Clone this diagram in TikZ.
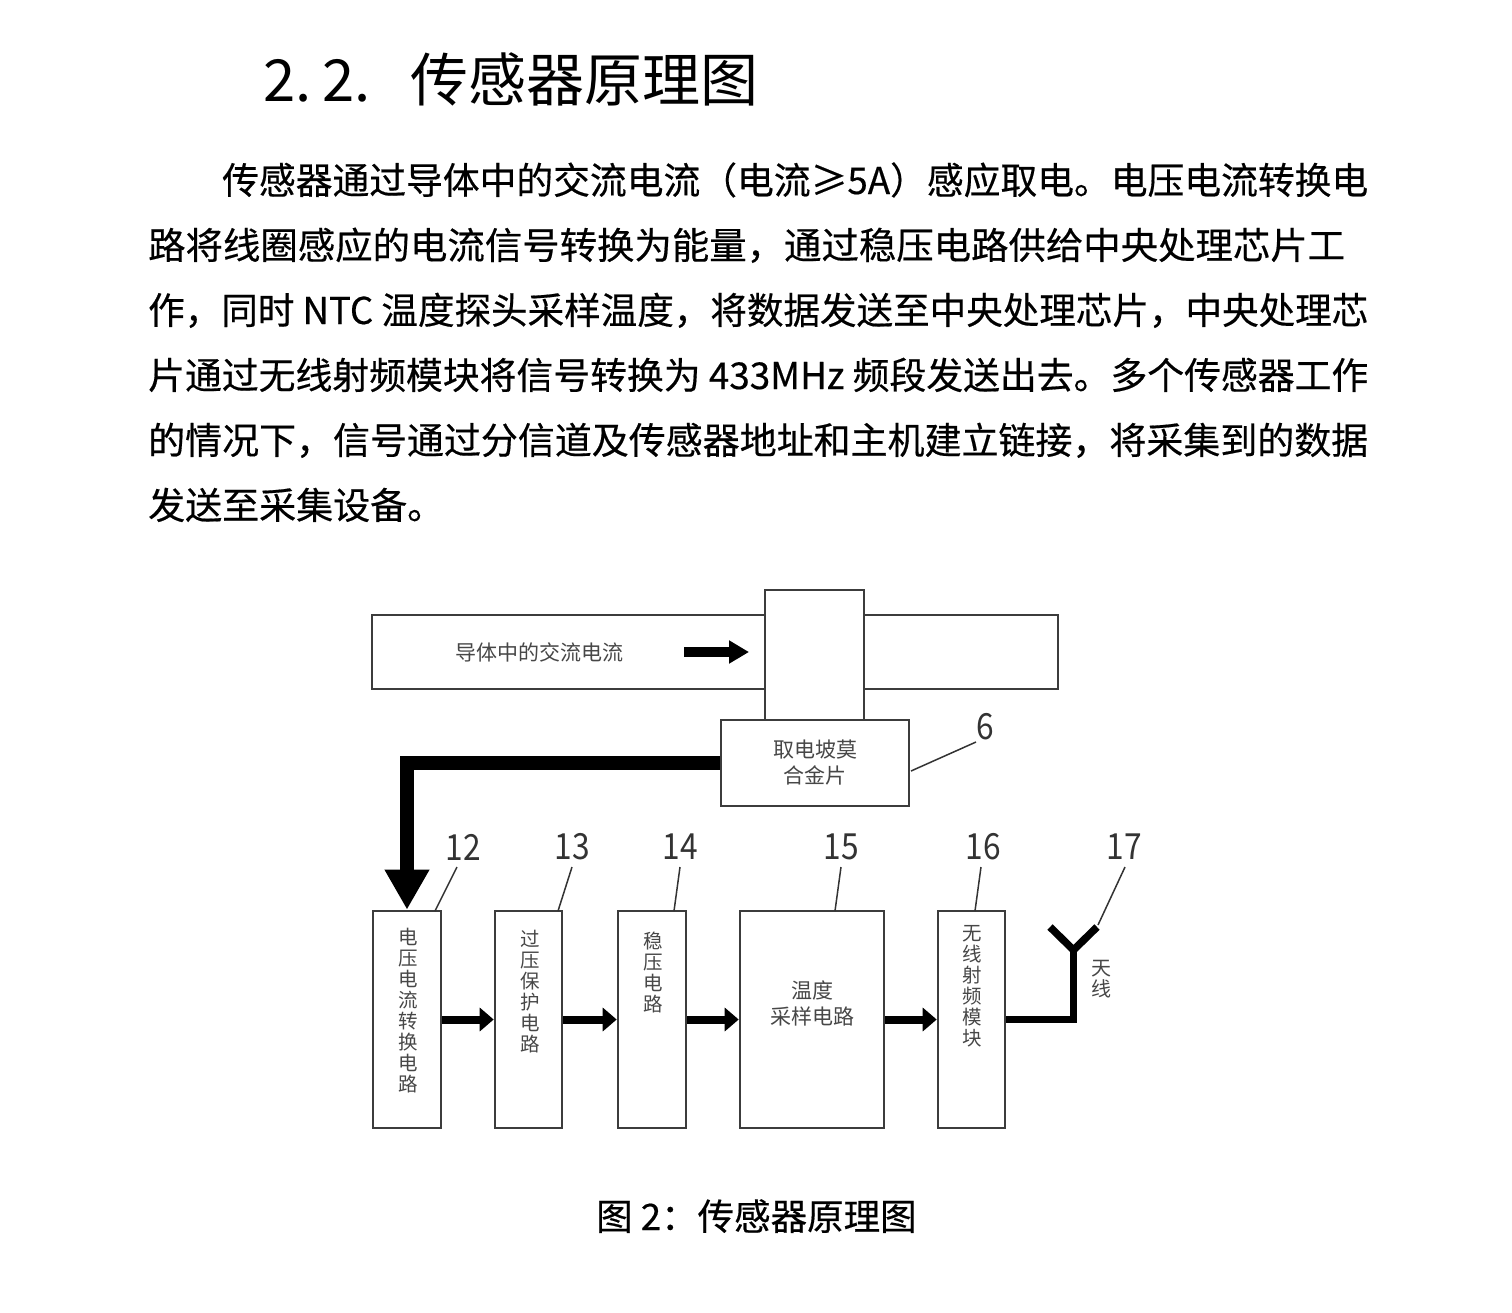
\documentclass[tikz,border=0pt]{standalone}
\usepackage{fontspec}
\setmainfont{Noto Sans CJK SC}
\newfontfamily\heavyfam{Noto Sans CJK SC}[BoldFont={Noto Sans CJK SC}, BoldFeatures={FakeBold=0.45}]
\usetikzlibrary{arrows.meta,calc}
\newcommand\bodyfont{\heavyfam\bfseries\fontsize{37pt}{37pt}\selectfont}
\newcommand\titlefont{\fontsize{58pt}{58pt}\selectfont}
\newcommand\capfont{\heavyfam\bfseries\fontsize{36.5pt}{36.5pt}\selectfont}
\newcommand\dgfont{\fontsize{21pt}{26pt}\selectfont}
\newcommand\vtfont{\fontsize{19.5pt}{21pt}\selectfont}
\newcommand\numfont{\fontsize{36pt}{36pt}\selectfont}
\newcommand\fitto[2]{\resizebox{#1}{\height}{#2}}
\definecolor{boxline}{HTML}{3C3C3C}
\definecolor{dgtext}{HTML}{474747}
\begin{document}
\begin{tikzpicture}[x=1pt,y=-1pt,
  bodyline/.style={anchor=base west, inner sep=0pt, font=\bodyfont},
  blk/.style={draw=boxline, line width=2.6pt, fill=white, inner sep=0pt},
  vtext/.style={anchor=north, inner sep=0pt, align=center, font=\vtfont, text=dgtext},
  dtext/.style={inner sep=0pt, align=center, font=\dgfont, text=dgtext},
  numlbl/.style={inner sep=2pt, font=\numfont, text=black!80, xscale=0.88},
  leader/.style={draw=black!80, line width=1.5pt},
  flow/.style={line width=8pt, -{Triangle[length=14pt,width=23pt]}},
  bigflow/.style={line width=14pt, -{Triangle[length=40pt,width=42pt]}},
  antline/.style={line width=7.5pt, line join=miter},
]
\useasboundingbox (0,0) rectangle (1512,1312);
\fill[white] (0,0) rectangle (1512,1312);

% title
\node[anchor=base west, inner sep=0pt, font=\titlefont] (t1) at (263,101) {\makebox[59pt][l]{2.}\makebox[59pt][l]{2.}};
\node[anchor=base west, inner sep=0pt, font=\titlefont] (t2) at (410,101) {传感器原理图};

% paragraph
\node[bodyline] (p1) at (222,194) {\fitto{1146pt}{传感器通过导体中的交流电流（电流≥5A）感应取电。电压电流转换电}};
\node[bodyline] (p2) at (148,259) {\fitto{1197pt}{路将线圈感应的电流信号转换为能量，通过稳压电路供给中央处理芯片工}};
\node[bodyline] (p3) at (148,324) {\fitto{1220pt}{作，同时 NTC 温度探头采样温度，将数据发送至中央处理芯片，中央处理芯}};
\node[bodyline] (p4) at (148,389) {\fitto{1220pt}{片通过无线射频模块将信号转换为 433MHz 频段发送出去。多个传感器工作}};
\node[bodyline] (p5) at (148,454) {\fitto{1220pt}{的情况下，信号通过分信道及传感器地址和主机建立链接，将采集到的数据}};
\node[bodyline] (p6) at (148,519) {发送至采集设备。};

% conductor and clamp
\node[blk, minimum width=686pt, minimum height=74pt] (bar) at (715,652) {};
\node[blk, minimum width=99pt, minimum height=130pt] (clamp) at (814.5,655) {};
\node[dtext] (bartext) at (539,652) {导体中的交流电流};
\coordinate (ia) at (684,652);
\coordinate (ib) at (749,652);
\draw[line width=10pt, -{Triangle[length=20pt,width=22pt]}] (ia) -- (ib);

\node[blk, minimum width=188pt, minimum height=86pt, dtext, font=\dgfont] (pick) at (815,763) {取电坡莫\\合金片};

% bottom blocks
\node[blk, minimum width=68pt, minimum height=217pt] (b12) at (407,1019.5) {};
\node[blk, minimum width=67pt, minimum height=217pt] (b13) at (528.5,1019.5) {};
\node[blk, minimum width=68pt, minimum height=217pt] (b14) at (652,1019.5) {};
\node[blk, minimum width=144pt, minimum height=217pt] (b15) at (812,1019.5) {};
\node[blk, minimum width=67pt, minimum height=217pt] (b16) at (971.5,1019.5) {};

\node[vtext] (v12) at (408,928) {电\\压\\电\\流\\转\\换\\电\\路};
\node[vtext] (v13) at (530,930) {过\\压\\保\\护\\电\\路};
\node[vtext] (v14) at (653,932) {稳\\压\\电\\路};
\node[dtext] (v15) at (812,1003) {温度\\采样电路};
\node[vtext] (v16) at (972,925) {无\\线\\射\\频\\模\\块};

% connectors
\draw[bigflow] (pick.west) -| (b12.north);
\draw[flow] (b12) -- (b13);
\draw[flow] (b13) -- (b14);
\draw[flow] (b14) -- (b15);
\draw[flow] (b15) -- (b16);

% antenna
\coordinate (ant) at (1073.5,950);
\coordinate (al) at (1050,927);
\coordinate (ar) at (1097,927);
\draw[antline] (b16.east) -| (ant);
\draw[antline] (al) -- (ant) -- (ar);
\node[vtext, font=\fontsize{20pt}{21pt}\selectfont] (antt) at (1101,960) {天\\线};

% number labels
\node[numlbl] (n6) at (985,727) {6};
\node[numlbl] (n12) at (463,847) {12};
\node[numlbl] (n13) at (572,847) {13};
\node[numlbl] (n14) at (680,847) {14};
\node[numlbl] (n15) at (841,847) {15};
\node[numlbl] (n16) at (983,847) {16};
\node[numlbl] (n17) at (1124,847) {17};

\coordinate (s6) at (911,771);   \coordinate (e6) at (976,742);
\coordinate (s12) at (435,911);  \coordinate (e12) at (457,867);
\coordinate (s13) at (558,911);  \coordinate (e13) at (572,867);
\coordinate (s14) at (674,911);  \coordinate (e14) at (680,867);
\coordinate (s15) at (835,911);  \coordinate (e15) at (841,867);
\coordinate (s16) at (975,911);  \coordinate (e16) at (981,867);
\coordinate (s17) at (1098,925); \coordinate (e17) at (1125,867);
\foreach \k in {6,12,13,14,15,16,17} \draw[leader] (s\k) -- (e\k);

% caption
\node[anchor=base west, inner sep=0pt, font=\capfont] (cap) at (596,1230) {图 2：传感器原理图};
\end{tikzpicture}
\end{document}
